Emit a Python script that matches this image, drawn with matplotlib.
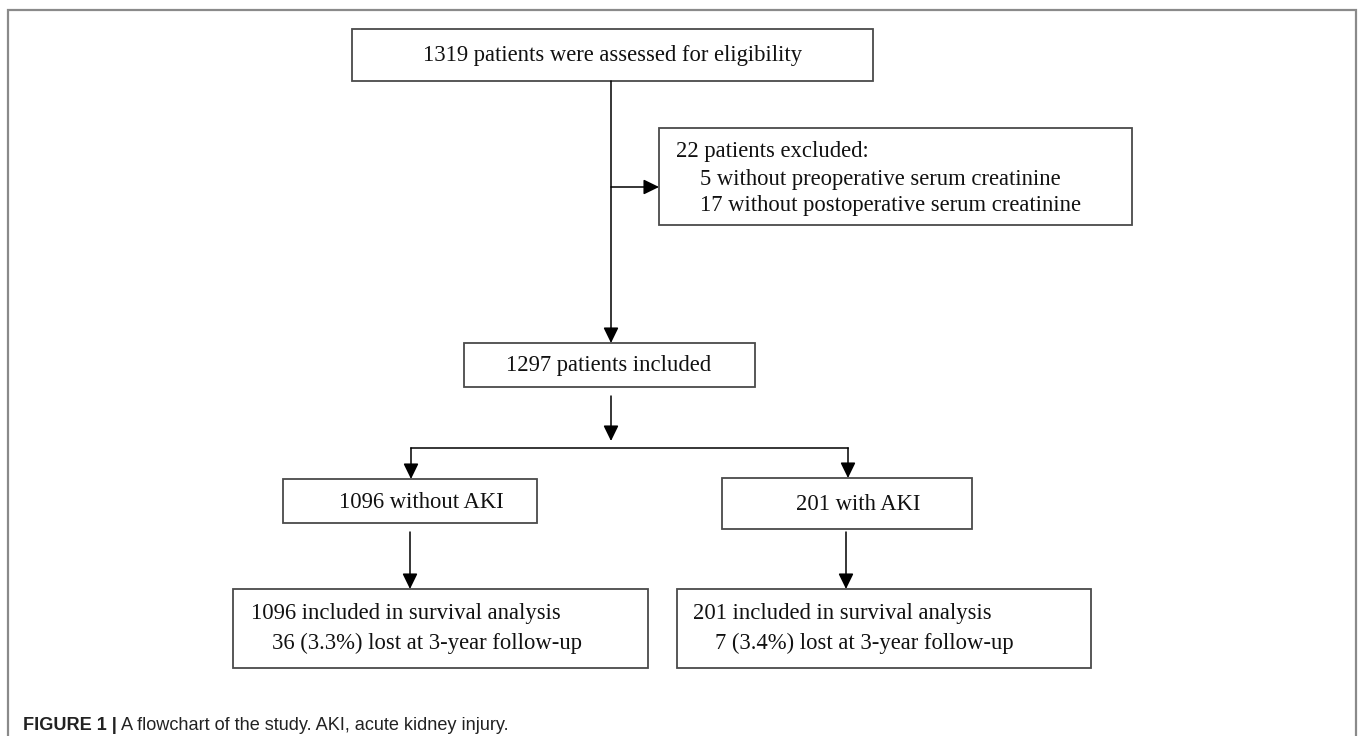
import matplotlib
matplotlib.use('Agg')
import matplotlib.pyplot as plt
from matplotlib.patches import Rectangle

# flowchart content
n_assessed = 1319
n_excluded = 22
n_no_preop = 5
n_no_postop = 17
n_included = 1297
n_no_aki = 1096
n_aki = 201
lost_no_aki = 36
lost_aki = 7
pct_no_aki = 3.3
pct_aki = 3.4

caption_bold = 'FIGURE 1 |'
caption_text = ' A flowchart of the study. AKI, acute kidney injury.'

serif = ['Liberation Serif', 'DejaVu Serif']
narrow = ['Liberation Sans Narrow', 'Liberation Sans', 'DejaVu Sans']

fig = plt.figure(figsize=(13.6, 7.36), dpi=100)
ax = fig.add_axes([0, 0, 1, 1])
ax.set_xlim(0, 1360)
ax.set_ylim(736, 0)
ax.axis('off')

box_col = '#4a4a4a'
fs = 16.3

# outer frame (open at bottom)
ax.plot([7.5, 7.5, 1356, 1356], [740, 10, 10, 740], color='#8a8a8a', lw=1.6,
        solid_joinstyle='miter')

def box(x0, y0, x1, y1):
    ax.add_patch(Rectangle((x0, y0), x1 - x0, y1 - y0, fill=False,
                           edgecolor=box_col, lw=1.3))

def arrow(x0, y0, x1, y1):
    ax.annotate('', xy=(x1, y1), xytext=(x0, y0),
                arrowprops=dict(arrowstyle='-|>,head_length=0.47,head_width=0.23',
                                mutation_scale=20, color='black', lw=1.1,
                                shrinkA=0, shrinkB=0))

def txt(x, y, s, ha='left'):
    ax.text(x, y, s, ha=ha, va='center', fontsize=fs, family=serif, color='#111111')

# box 1
box(352, 29, 873, 81)
txt(613, 55, f'{n_assessed} patients were assessed for eligibility', ha='center')

# excluded box
box(659, 128, 1132, 225)
txt(676, 152, f'{n_excluded} patients excluded:')
txt(700, 179, f'{n_no_preop} without preoperative serum creatinine')
txt(700, 206, f'{n_no_postop} without postoperative serum creatinine')

# included
box(464, 343, 755, 387)
txt(609, 366, f'{n_included} patients included', ha='center')

# groups
box(283, 479, 537, 523)
txt(421, 502, f'{n_no_aki} without AKI', ha='center')
box(722, 478, 972, 529)
txt(858, 504, f'{n_aki} with AKI', ha='center')

# survival boxes
box(233, 589, 648, 668)
txt(251, 613, f'{n_no_aki} included in survival analysis')
txt(272, 643, f'{lost_no_aki} ({pct_no_aki}%) lost at 3-year follow-up')
box(677, 589, 1091, 668)
txt(693, 613, f'{n_aki} included in survival analysis')
txt(715, 643, f'{lost_aki} ({pct_aki}%) lost at 3-year follow-up')

# connectors
arrow(611, 81, 611, 343)
arrow(611, 187, 659, 187)
arrow(611, 396, 611, 441)
ax.plot([411, 848], [448, 448], color='black', lw=1.1)
arrow(411, 448, 411, 479)
arrow(848, 448, 848, 478)
arrow(410, 532, 410, 589)
arrow(846, 532, 846, 589)

# caption
t = ax.text(23, 725, caption_bold, ha='left', va='center', fontsize=13.1,
            family=narrow, weight='bold', color='#222222')
fig.canvas.draw()
bb = t.get_window_extent()
x_end = ax.transData.inverted().transform((bb.x1, bb.y0))[0]
ax.text(x_end, 725, caption_text, ha='left', va='center', fontsize=13.1,
        family=narrow, color='#222222')

fig.savefig('out.png', dpi=100)
